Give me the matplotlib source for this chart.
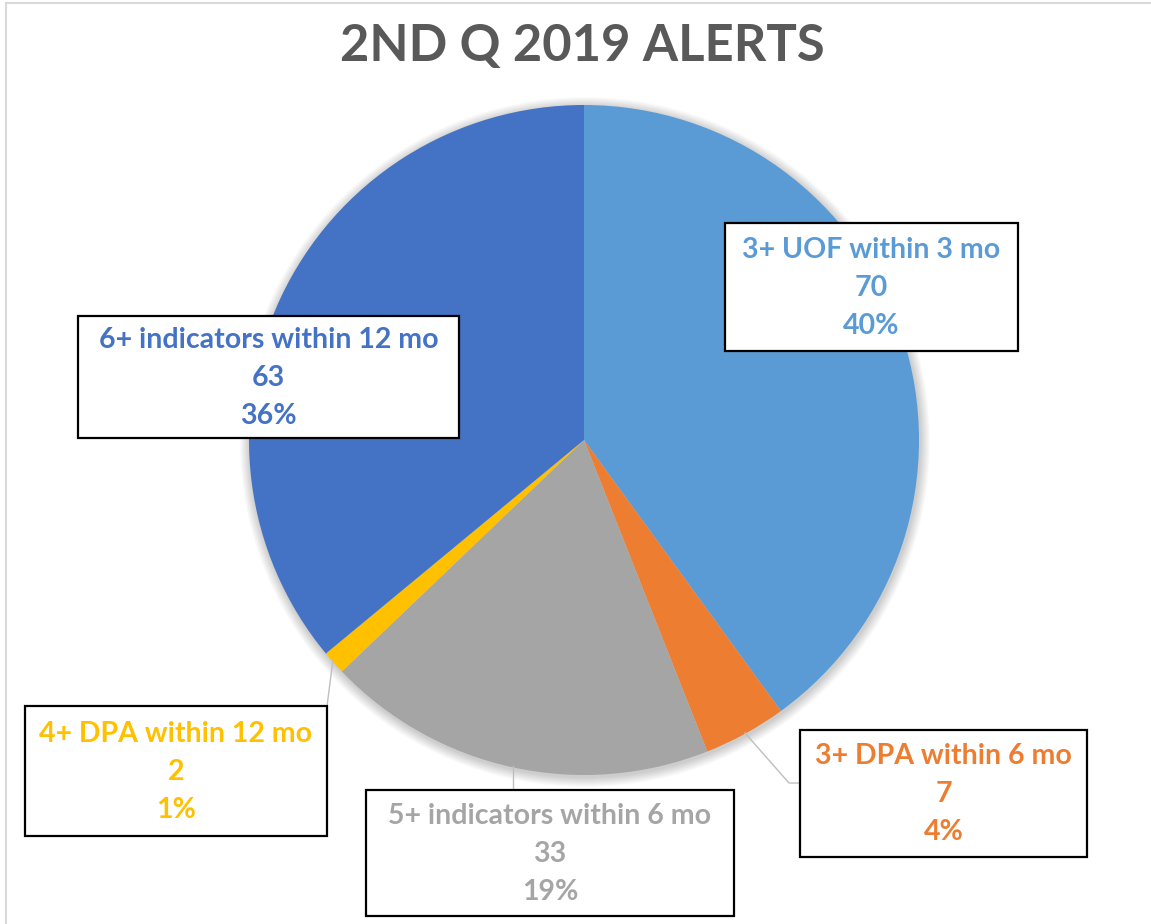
import matplotlib
matplotlib.use("Agg")
import matplotlib.pyplot as plt
from matplotlib.patches import Rectangle, Circle

# ---- data ----
categories = ["3+ UOF within 3 mo", "3+ DPA within 6 mo", "5+ indicators within 6 mo",
              "4+ DPA within 12 mo", "6+ indicators within 12 mo"]
values = [70, 7, 33, 2, 63]
colors = ["#5B9BD5", "#ED7D31", "#A5A5A5", "#FFC000", "#4472C4"]
title = "2ND Q 2019 ALERTS"

FONT = ["Lato", "DejaVu Sans"]
W, H = 1151, 924
fig = plt.figure(figsize=(W / 100, H / 100), dpi=100)
ax = fig.add_axes([0, 0, 1, 1])


def P(x, y):
    return x, H - y


cx, cy = P(584, 440)
R = 335

# soft shadow around the pie
for i in range(10):
    ax.add_patch(Circle((cx + 1, cy - 2), R + 1 + i, color="black", alpha=0.018, lw=0, zorder=1))

ax.pie(values, colors=colors, startangle=90, counterclock=False, radius=R,
       center=(cx, cy), wedgeprops=dict(linewidth=0), frame=False)
for w in ax.patches[-len(values):]:
    w.set_zorder(2)

ax.set_xlim(0, W)
ax.set_ylim(0, H)
ax.set_aspect("equal")
ax.axis("off")

# chart border (top and left visible)
ax.plot([6, W], [H - 3, H - 3], color="#D9D9D9", lw=1.5, zorder=0)
ax.plot([6, 6], [H - 3, 0], color="#D9D9D9", lw=1.5, zorder=0)

# title
ax.text(*P(582, 47), title, ha="center", va="center", fontsize=36.5, fontweight="bold",
        color="#595959", family=FONT)

# label boxes (layout, px: x0, y0, x1, y1)
boxes = [(725, 223, 1018, 351), (800, 730, 1087, 857), (366, 790, 734, 916),
         (25, 706, 327, 836), (78, 316, 459, 438)]
leaders = [None,
           [(745, 733), (789, 783), (800, 783)],
           [(513, 766), (513, 790)],
           [(333, 660), (327, 706)],
           None]

total = sum(values)
for cat, v, col, (x0, y0, x1, y1), ld in zip(categories, values, colors, boxes, leaders):
    bx, by = P(x0, y1)
    ax.add_patch(Rectangle((bx, by), x1 - x0, y1 - y0, facecolor="white",
                           edgecolor="black", lw=1.6, zorder=5))
    ymid = (y0 + y1) / 2
    pct = f"{round(v / total * 100)}%"
    for txt, off in zip([cat, str(v), pct], [-37, 1, 39]):
        ax.text(*P((x0 + x1) / 2, ymid + off), txt, ha="center", va="center",
                fontsize=20.5, fontweight="bold", color=col, family=FONT, zorder=6)
    if ld:
        xs = [p[0] for p in ld]
        ys = [H - p[1] for p in ld]
        ax.plot(xs, ys, color="#BFBFBF", lw=1, zorder=4)

fig.savefig("out.png", dpi=100, facecolor="white")
